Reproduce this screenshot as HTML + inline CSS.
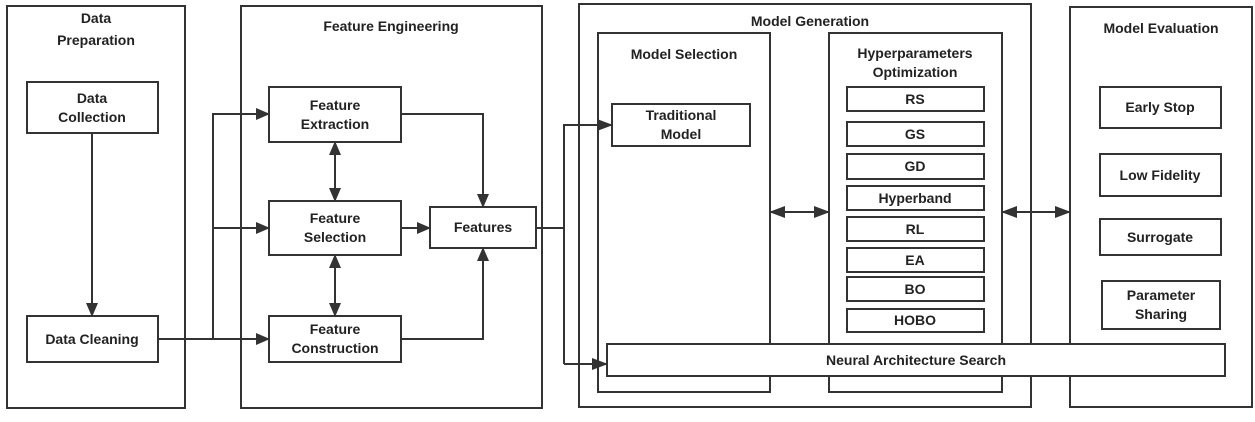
<!DOCTYPE html>
<html><head><meta charset="utf-8"><style>
html,body{margin:0;padding:0;background:#fff}
svg text{font-family:"Liberation Sans",Arial,sans-serif;font-weight:bold;font-size:14px;fill:#222;text-anchor:middle}
</style></head><body>
<svg width="1255" height="417" viewBox="0 0 1255 417" xmlns="http://www.w3.org/2000/svg">
<defs>
<marker id="a" markerWidth="14" markerHeight="12" refX="13" refY="6" orient="auto-start-reverse" markerUnits="userSpaceOnUse">
<path d="M0,0 L14,6 L0,12 z" fill="#333"/></marker>
<marker id="b" markerWidth="16" markerHeight="12" refX="15" refY="6" orient="auto-start-reverse" markerUnits="userSpaceOnUse">
<path d="M0,0 L16,6 L0,12 z" fill="#333"/></marker>
</defs>
<g fill="none" stroke="#333" stroke-width="2">
<rect x="7" y="6" width="178" height="402"/>
<rect x="241" y="6" width="301" height="402"/>
<rect x="579" y="4" width="452" height="403"/>
<rect x="1070" y="7" width="182" height="400"/>
<rect x="27" y="82" width="131" height="51"/>
<rect x="27" y="316" width="131" height="46"/>
<rect x="269" y="87" width="132" height="55"/>
<rect x="269" y="201" width="132" height="54"/>
<rect x="269" y="316" width="132" height="46"/>
<rect x="430" y="207" width="106" height="41"/>
<rect x="598" y="33" width="172" height="359"/>
<rect x="829" y="33" width="173" height="359"/>
<rect x="612" y="104" width="138" height="42"/>
<rect x="847" y="87" width="137" height="24"/>
<rect x="847" y="122" width="137" height="24"/>
<rect x="847" y="154" width="137" height="25"/>
<rect x="847" y="186" width="137" height="24"/>
<rect x="847" y="217" width="137" height="24"/>
<rect x="847" y="248" width="137" height="24"/>
<rect x="847" y="277" width="137" height="24"/>
<rect x="847" y="309" width="137" height="23"/>
<rect x="1100" y="87" width="121" height="41"/>
<rect x="1100" y="154" width="121" height="42"/>
<rect x="1100" y="219" width="121" height="36"/>
<rect x="1102" y="281" width="118" height="48"/>
</g>
<rect x="607" y="344" width="618" height="32" fill="#fff" stroke="#333" stroke-width="2"/>
<g fill="none" stroke="#333" stroke-width="2">
<line x1="92" y1="133" x2="92" y2="316" marker-end="url(#a)"/>
<polyline points="158,339 213,339 213,114 269,114" marker-end="url(#a)"/>
<line x1="213" y1="228" x2="269" y2="228" marker-end="url(#a)"/>
<line x1="213" y1="339" x2="269" y2="339" marker-end="url(#a)"/>
<polyline points="401,114 483,114 483,207" marker-end="url(#a)"/>
<polyline points="401,339 483,339 483,248" marker-end="url(#a)"/>
<line x1="401" y1="228" x2="430" y2="228" marker-end="url(#a)"/>
<line x1="335" y1="142" x2="335" y2="201" marker-start="url(#a)" marker-end="url(#a)"/>
<line x1="335" y1="255" x2="335" y2="316" marker-start="url(#a)" marker-end="url(#a)"/>
<polyline points="536,228 564,228"/>
<polyline points="564,364 564,125 612,125" marker-end="url(#b)"/>
<line x1="564" y1="364" x2="607" y2="364" marker-end="url(#b)"/>
<line x1="770" y1="212" x2="829" y2="212" marker-start="url(#b)" marker-end="url(#b)"/>
<line x1="1002" y1="212" x2="1070" y2="212" marker-start="url(#b)" marker-end="url(#b)"/>
</g>
<text x="96" y="23">Data</text>
<text x="96" y="45">Preparation</text>
<text x="391" y="31">Feature Engineering</text>
<text x="810" y="26">Model Generation</text>
<text x="684" y="59">Model Selection</text>
<text x="915" y="58">Hyperparameters</text>
<text x="915" y="77">Optimization</text>
<text x="1161" y="33">Model Evaluation</text>
<text x="92" y="103">Data</text>
<text x="92" y="122">Collection</text>
<text x="92" y="344">Data Cleaning</text>
<text x="335" y="110">Feature</text>
<text x="335" y="129">Extraction</text>
<text x="335" y="223">Feature</text>
<text x="335" y="242">Selection</text>
<text x="335" y="334">Feature</text>
<text x="335" y="353">Construction</text>
<text x="483" y="232">Features</text>
<text x="681" y="120">Traditional</text>
<text x="681" y="139">Model</text>
<text x="915" y="104">RS</text>
<text x="915" y="139">GS</text>
<text x="915" y="171">GD</text>
<text x="915" y="203">Hyperband</text>
<text x="915" y="234">RL</text>
<text x="915" y="265">EA</text>
<text x="915" y="294">BO</text>
<text x="915" y="325">HOBO</text>
<text x="916" y="365">Neural Architecture Search</text>
<text x="1160" y="112">Early Stop</text>
<text x="1160" y="180">Low Fidelity</text>
<text x="1160" y="242">Surrogate</text>
<text x="1161" y="300">Parameter</text>
<text x="1161" y="319">Sharing</text>
</svg>
</body></html>
